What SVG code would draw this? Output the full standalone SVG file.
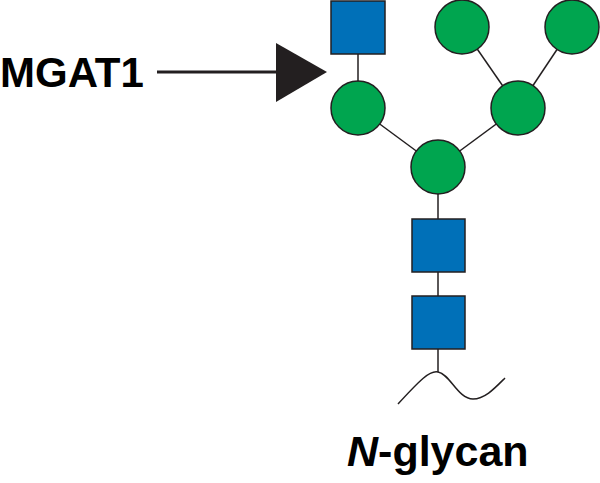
<svg xmlns="http://www.w3.org/2000/svg" width="600" height="483" viewBox="0 0 600 483">
<style>
.sq{fill:#0070b8;stroke:#231f20;stroke-width:1.5}
.ci{fill:#00a54f;stroke:#231f20;stroke-width:1.5}
.ln{stroke:#231f20;stroke-width:1.5;fill:none}
text{font-family:"Liberation Sans",Arial,sans-serif;font-weight:bold;fill:#000}
</style>
<rect width="600" height="483" fill="#fff"/>
<g id="connectors">
<line class="ln" x1="358" y1="28" x2="358" y2="108"/>
<line class="ln" x1="358" y1="108" x2="438" y2="167"/>
<line class="ln" x1="518" y1="108" x2="438" y2="167"/>
<line class="ln" x1="462" y1="27" x2="518" y2="108"/>
<line class="ln" x1="572" y1="27" x2="518" y2="108"/>
<line class="ln" x1="438" y1="167" x2="438" y2="372"/>
<path class="ln" d="M398,404 C420,380 430,370 438,372 C450,374 458,399 473,399 C485,399 495,388 505,378"/>
<line x1="157" y1="72" x2="280" y2="72" stroke="#231f20" stroke-width="3"/>
<polygon points="276,43 327,72 276,102" fill="#231f20"/>
</g>
<g id="n1"><rect class="sq" x="331" y="1" width="54" height="53"/></g>
<g id="n2"><ellipse class="ci" cx="358" cy="108" rx="27" ry="27"/></g>
<g id="n3"><ellipse class="ci" cx="462" cy="27" rx="27" ry="27"/></g>
<g id="n4"><ellipse class="ci" cx="572" cy="27" rx="27" ry="27"/></g>
<g id="n5"><ellipse class="ci" cx="518" cy="108" rx="27" ry="27"/></g>
<g id="n6"><ellipse class="ci" cx="438" cy="167" rx="27" ry="27"/></g>
<g id="n7"><rect class="sq" x="412" y="219" width="53" height="53"/></g>
<g id="n8"><rect class="sq" x="412" y="296" width="53" height="53"/></g>
<text x="0" y="87" font-size="42">MGAT1</text>
<text x="347" y="466" font-size="43"><tspan font-style="italic">N</tspan>-glycan</text>
</svg>
